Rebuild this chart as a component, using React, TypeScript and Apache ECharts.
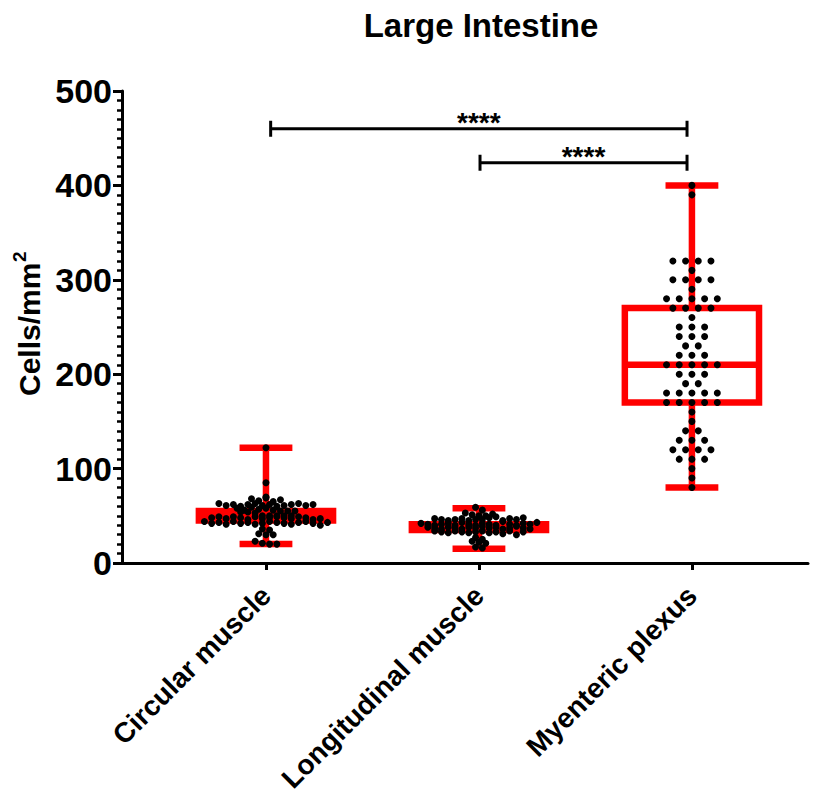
import React, { useEffect, useRef } from "react";
import * as echarts from "echarts";

const title = "Large Intestine";
const yAxisName = "Cells/mm";
const yAxisNameSup = "2";
const categories = ["Circular muscle", "Longitudinal muscle", "Myenteric plexus"];

const yMin = 0;
const yMax = 500;
const yInterval = 100;

// [min, q1, median, q3, max]
const circularStats = [20, 45, 50, 55, 122];
const longitudinalStats = [15, 35, 38, 41, 58];
const myentericStats = [80, 170, 210, 270, 400];

const circularValues = [
  122, 85,
  70, 68, 66, 69, 65, 67,
  63, 61, 62, 60, 62, 63, 61, 62, 60, 61, 62, 63, 61, 62,
  58, 56, 59, 57, 58, 56,
  55, 54, 55, 54, 55, 53,
  50, 48, 49, 50, 47, 49, 48, 50, 46, 49, 47, 48, 50, 49, 48, 47, 49, 50, 48, 46, 47,
  44, 42, 43, 41, 44, 42, 43, 41, 42, 44, 43, 42, 41, 43, 44, 42, 40, 43,
  36, 35, 31, 30, 30, 23, 21, 20, 20,
];

const longitudinalValues = [
  59, 56, 53, 51, 50, 50, 52,
  47, 46, 45, 46, 47, 45, 46, 46, 48, 49, 45, 47, 46, 48,
  42, 41, 40, 41, 42, 40, 43, 41, 40, 42, 41, 40, 44, 41, 40, 42, 41, 43,
  38, 37, 36, 38, 37, 36, 38, 37, 39, 37, 38, 36, 37, 39, 37, 36,
  34, 33, 32, 34, 33, 32, 33, 34, 32, 33, 31, 34, 30, 33,
  27, 25, 23, 22, 21, 17, 16,
];

const myentericValues = [
  400, 390, 320, 320, 320, 320, 310, 300, 300, 300, 300, 290,
  280, 280, 280, 280, 280, 270, 270, 270, 270, 260, 250, 250, 250,
  240, 240, 240, 230, 230, 220, 220, 220, 210, 210, 210, 210, 210,
  200, 200, 200, 190, 190, 180, 180, 180, 180, 180, 170, 170, 170, 170, 170,
  160, 150, 140, 140, 130, 130, 130, 120, 120, 120, 120, 110, 110, 110, 100, 90, 80,
];

const significance = [
  { from: 0.022, to: 1.977, level: 460, label: "****" },
  { from: 1.005, to: 1.977, level: 424, label: "****" },
];

// binned swarm layout: values sharing a bin are spread side by side (x in category units)
function swarm(values: number[], center: number, binSize: number, step: number) {
  const bins = new Map<number, number[]>();
  for (const v of values) {
    const k = Math.floor(v / binSize);
    if (!bins.has(k)) bins.set(k, []);
    bins.get(k)!.push(v);
  }
  const out: number[][] = [];
  bins.forEach((b) => {
    const n = b.length;
    b.forEach((v, i) => out.push([center + (i - (n - 1) / 2) * step, v]));
  });
  return out;
}

const FONT = '"Liberation Sans", Arial, sans-serif';

export default function App() {
  const ref = useRef<HTMLDivElement>(null);
  useEffect(() => {
    if (!ref.current) return;
    const chart = echarts.init(ref.current, null, { renderer: "svg" });
    const stats = [circularStats, longitudinalStats, myentericStats];
    const boxData = stats.map((s, i) => [i, ...s]);
    const points = [
      ...swarm(circularValues, 0, 5, 0.034),
      ...swarm(longitudinalValues, 1, 5, 0.032),
      ...swarm(myentericValues, 2, 5, 0.0596),
    ];
    const sigData = significance.map((s) => [s.from, s.to, s.level]);

    chart.setOption({
      animation: false,
      backgroundColor: "#fff",
      grid: { left: 122, right: 16, top: 91, bottom: 235, outerBoundsMode: "none" },
      graphic: [
        {
          type: "text",
          x: 481,
          y: 25,
          style: {
            text: title,
            fontFamily: FONT,
            fontWeight: "bold",
            fontSize: 33,
            fill: "#000",
            textAlign: "center",
            textVerticalAlign: "middle",
          },
        },
        {
          type: "text",
          x: 29,
          y: 396,
          rotation: Math.PI / 2,
          style: {
            text: yAxisName,
            fontFamily: FONT,
            fontWeight: "bold",
            fontSize: 30,
            fill: "#000",
            textAlign: "left",
            textVerticalAlign: "middle",
          },
        },
        {
          type: "text",
          x: 19,
          y: 262,
          rotation: Math.PI / 2,
          style: {
            text: yAxisNameSup,
            fontFamily: FONT,
            fontWeight: "bold",
            fontSize: 19,
            fill: "#000",
            textAlign: "left",
            textVerticalAlign: "middle",
          },
        },
      ],
      xAxis: {
        type: "value",
        min: -0.676,
        max: 2.545,
        splitLine: { show: false },
        axisLine: { show: true, onZero: false, lineStyle: { color: "#000", width: 3 } },
        axisTick: {
          show: true,
          customValues: [0, 1, 2],
          length: 7,
          lineStyle: { color: "#000", width: 3 },
        },
        axisLabel: {
          show: true,
          customValues: [0, 1, 2],
          formatter: (v: number) => categories[Math.round(v)] ?? "",
          rotate: 45,
          margin: 28,
          fontFamily: FONT,
          fontWeight: "bold",
          fontSize: 28,
          color: "#000",
        },
      },
      yAxis: {
        type: "value",
        min: yMin,
        max: yMax,
        interval: yInterval,
        splitLine: { show: false },
        axisLine: { show: true, onZero: false, lineStyle: { color: "#000", width: 3 } },
        axisTick: { show: true, length: 9, lineStyle: { color: "#000", width: 3 } },
        minorTick: { show: true, splitNumber: 10, length: 5, lineStyle: { color: "#000", width: 2.5 } },
        axisLabel: {
          margin: 10,
          fontFamily: FONT,
          fontWeight: "bold",
          fontSize: 34,
          color: "#000",
        },
      },
      series: [
        {
          type: "custom",
          data: boxData,
          encode: { x: 0, y: [1, 2, 3, 4, 5] },
          z: 2,
          renderItem: (params: any, api: any) => {
            const x = api.value(0);
            const pMin = api.coord([x, api.value(1)]);
            const pQ1 = api.coord([x, api.value(2)]);
            const pMed = api.coord([x, api.value(3)]);
            const pQ3 = api.coord([x, api.value(4)]);
            const pMax = api.coord([x, api.value(5)]);
            const bw = api.coord([x + 0.315, 0])[0] - pMin[0];
            const cw = api.coord([x + 0.124, 0])[0] - pMin[0];
            const cx = pMin[0];
            const red = "#ff0000";
            const ls = (w: number) => ({ stroke: red, lineWidth: w, fill: "none" });
            return {
              type: "group",
              children: [
                { type: "line", shape: { x1: cx, y1: pQ3[1], x2: cx, y2: pMax[1] }, style: ls(6.5) },
                { type: "line", shape: { x1: cx, y1: pQ1[1], x2: cx, y2: pMin[1] }, style: ls(6.5) },
                { type: "line", shape: { x1: cx - cw, y1: pMax[1], x2: cx + cw, y2: pMax[1] }, style: ls(6.5) },
                { type: "line", shape: { x1: cx - cw, y1: pMin[1], x2: cx + cw, y2: pMin[1] }, style: ls(6.5) },
                {
                  type: "rect",
                  shape: { x: cx - bw, y: pQ3[1], width: 2 * bw, height: pQ1[1] - pQ3[1] },
                  style: ls(6.5),
                },
                { type: "line", shape: { x1: cx - bw, y1: pMed[1], x2: cx + bw, y2: pMed[1] }, style: ls(6.5) },
              ],
            };
          },
        },
        {
          type: "scatter",
          data: points,
          symbol: "circle",
          symbolSize: 7,
          itemStyle: { color: "#000", opacity: 1 },
          z: 5,
        },
        {
          type: "custom",
          data: sigData,
          encode: { x: [0, 1], y: 2 },
          z: 4,
          renderItem: (params: any, api: any) => {
            const p1 = api.coord([api.value(0), api.value(2)]);
            const p2 = api.coord([api.value(1), api.value(2)]);
            const st = { stroke: "#000", lineWidth: 3 };
            const label = significance[params.dataIndex].label;
            return {
              type: "group",
              children: [
                { type: "line", shape: { x1: p1[0], y1: p1[1], x2: p2[0], y2: p2[1] }, style: st },
                { type: "line", shape: { x1: p1[0], y1: p1[1] - 8, x2: p1[0], y2: p1[1] + 8 }, style: st },
                { type: "line", shape: { x1: p2[0], y1: p2[1] - 8, x2: p2[0], y2: p2[1] + 8 }, style: st },
                {
                  type: "text",
                  x: (p1[0] + p2[0]) / 2,
                  y: p1[1] - 6,
                  style: {
                    text: label,
                    fontFamily: FONT,
                    fontWeight: "bold",
                    fontSize: 28,
                    fill: "#000",
                    textAlign: "center",
                    textVerticalAlign: "middle",
                  },
                },
              ],
            };
          },
        },
      ],
    });
    return () => chart.dispose();
  }, []);
  return (
    <div
      ref={ref}
      style={{ position: "absolute", left: 0, top: 0, width: 824, height: 798 }}
    />
  );
}
